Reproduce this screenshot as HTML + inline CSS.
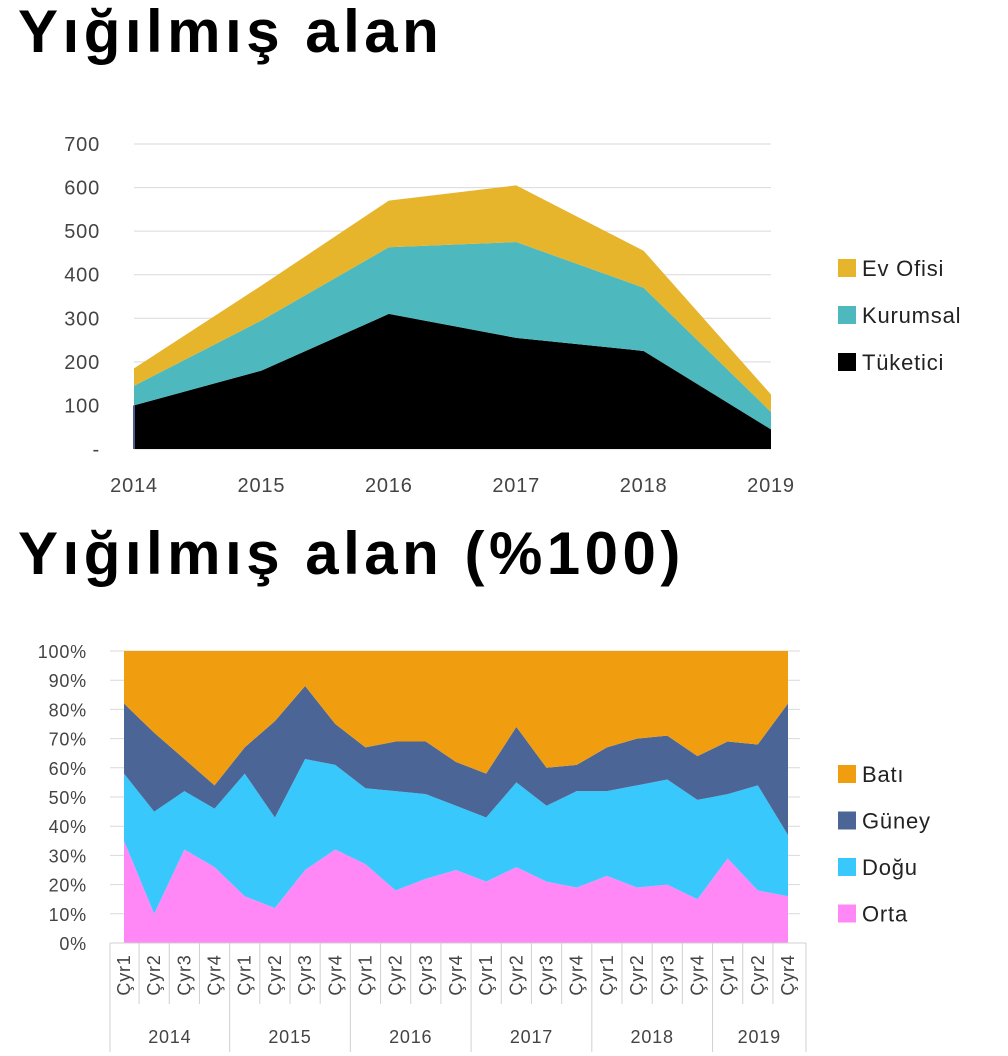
<!DOCTYPE html>
<html><head><meta charset="utf-8"><style>
body{margin:0;background:#fff;font-family:"Liberation Sans",sans-serif;}
.t{position:absolute;left:18px;font-weight:bold;font-size:60px;letter-spacing:4.5px;color:#000;margin:0;line-height:1;}
svg text{letter-spacing:0.8px;}
</style></head><body>
<div style="position:relative;width:1008px;height:1056px;overflow:hidden">
<h1 class="t" style="top:2px">Yığılmış alan</h1>
<h1 class="t" style="top:524px">Yığılmış alan (%100)</h1>
<svg id="c1" width="1008" height="520" style="position:absolute;left:0;top:0"></svg>
<svg id="c2" width="1008" height="536" style="position:absolute;left:0;top:520px"></svg>
</div>
<script>
const years=["2014","2015","2016","2017","2018","2019"];
const tuketici=[100,180,310,255,225,45];
const kurumsal=[45,115,153,220,145,40];
const evOfisi=[40,80,107,130,85,40];
const yTicks1=[0,100,200,300,400,500,600,700];

const quarters=["Çyr1","Çyr2","Çyr3","Çyr4","Çyr1","Çyr2","Çyr3","Çyr4","Çyr1","Çyr2","Çyr3","Çyr4","Çyr1","Çyr2","Çyr3","Çyr4","Çyr1","Çyr2","Çyr3","Çyr4","Çyr1","Çyr2","Çyr4"];
const qYears=["2014","2015","2016","2017","2018","2019"];
const qYearCounts=[4,4,4,4,4,3];
const orta=[35,10,32,26,16,12,25,32,27,18,22,25,21,26,21,19,23,19,20,15,29,18,16];
const dogu=[23,35,20,20,42,31,38,29,26,34,29,22,22,29,26,33,29,35,36,34,22,36,21];
const guney=[24,27,11,8,9,33,25,14,14,17,18,15,15,19,13,9,15,16,15,15,18,14,45];
const bati=orta.map((v,i)=>100-v-dogu[i]-guney[i]);
const yTicks2=[0,10,20,30,40,50,60,70,80,90,100];

const NS="http://www.w3.org/2000/svg";
function mk(p,tag,at){const e=document.createElementNS(NS,tag);for(const k in at)e.setAttribute(k,at[k]);p.appendChild(e);return e;}
function stackArea(svg,series,xf,yf,colors,names){
  let base=series[0].map(()=>0);
  series.forEach((s,k)=>{
    const top=base.map((b,i)=>b+s[i]);
    let d="";
    top.forEach((v,i)=>{d+=(i?"L":"M")+xf(i)+","+yf(v);});
    for(let i=base.length-1;i>=0;i--)d+="L"+xf(i)+","+yf(base[i]);
    const p=mk(svg,"path",{d:d+"Z",fill:colors[k]});
    
    
    base=top;
  });
}
// Chart 1
const s1=document.getElementById('c1');
const x1=i=>134+i*(771-134)/(years.length-1);
const y1=v=>449-v*(449-144)/700;
yTicks1.forEach(t=>{
  const g=mk(s1,"line",{x1:134,x2:771,y1:y1(t),y2:y1(t),stroke:"#d9d9d9","stroke-width":1});
  
  
  const tx=mk(s1,"text",{x:100,y:y1(t)+7,"text-anchor":"end","font-size":20,fill:"#444"});
  tx.textContent=t===0?"-":t;
  
  
});
stackArea(s1,[tuketici,kurumsal,evOfisi],x1,y1,["#000","#4db8bd","#e6b52b"],["area-tuketici","area-kurumsal","area-ev-ofisi"]);
mk(s1,"line",{x1:134,x2:134,y1:y1(tuketici[0]),y2:449,stroke:"#4a5a8a","stroke-width":2});
years.forEach((y,i)=>{
  const tx=mk(s1,"text",{x:x1(i),y:492,"text-anchor":"middle","font-size":20,fill:"#444"});
  tx.textContent=y;
  
  
});
[["Ev Ofisi","#e6b52b"],["Kurumsal","#4db8bd"],["Tüketici","#000"]].forEach((l,i)=>{
  const g=mk(s1,"g",{});
  
  
  mk(g,"rect",{x:838,y:259+i*47,width:18,height:18,fill:l[1]});
  const t=mk(g,"text",{x:862,y:276+i*47,"font-size":22,fill:"#222"});t.textContent=l[0];
});
// Chart 2
const s2=document.getElementById('c2');
const x2=i=>124+i*(788-124)/(quarters.length-1);
const y2=v=>423-v*(423-131)/100;
yTicks2.forEach(t=>{
  mk(s2,"line",{x1:110,x2:800,y1:y2(t),y2:y2(t),stroke:"#d9d9d9","stroke-width":1});
  const tx=mk(s2,"text",{x:87,y:y2(t)+7,"text-anchor":"end","font-size":18,fill:"#444"});
  tx.textContent=t+"%";
  
  
});
stackArea(s2,[orta,dogu,guney,bati],x2,y2,["#ff88f6","#38c8fb","#4b6696","#f09e10"],["area-orta","area-dogu","area-guney","area-bati"]);
const left=110,right=806,ax=423;
mk(s2,"line",{x1:left,x2:right,y1:ax,y2:ax,stroke:"#d0d0d0"});
mk(s2,"line",{x1:left,x2:left,y1:ax,y2:532,stroke:"#d0d0d0"});
quarters.forEach((q,i)=>{
  const cx=x2(i);
  const tx=mk(s2,"text",{x:0,y:0,"text-anchor":"middle","font-size":18,fill:"#444",transform:`translate(${cx+6},455) rotate(-90)`});
  tx.textContent=q;
  
  
});
let start=0;
qYearCounts.forEach((n,k)=>{
  const end=start+n;
  const xe=k===qYearCounts.length-1?right:(x2(end-1)+x2(end))/2;
  const xs=k===0?left:(x2(start-1)+x2(start))/2;
  for(let j=start+1;j<end;j++){const xm=(x2(j-1)+x2(j))/2;mk(s2,"line",{x1:xm,x2:xm,y1:ax,y2:484,stroke:"#d0d0d0"});}
  mk(s2,"line",{x1:xe,x2:xe,y1:ax,y2:532,stroke:"#d0d0d0"});
  const tx=mk(s2,"text",{x:(xs+xe)/2,y:523,"text-anchor":"middle","font-size":18,fill:"#444"});
  tx.textContent=qYears[k];
  
  
  start=end;
});
[["Batı","#f09e10"],["Güney","#4b6696"],["Doğu","#38c8fb"],["Orta","#ff88f6"]].forEach((l,i)=>{
  const g=mk(s2,"g",{});
  
  
  mk(g,"rect",{x:838,y:245+i*46.5,width:18,height:18,fill:l[1]});
  const t=mk(g,"text",{x:862,y:262+i*46.5,"font-size":22,fill:"#222"});t.textContent=l[0];
});
</script>
</body></html>
